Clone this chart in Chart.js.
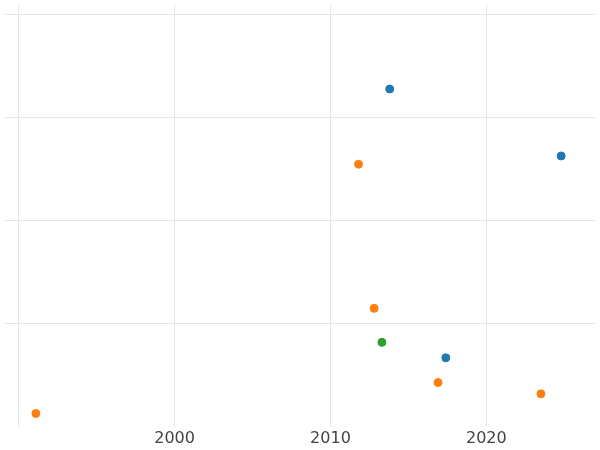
<!DOCTYPE html>
<html>
<head>
<meta charset="utf-8">
<script src="https://cdn.jsdelivr.net/npm/chart.js@4"></script>
<style>
  html, body { margin: 0; padding: 0; background: #fff; }
  #wrap { width: 600px; height: 450px; }
</style>
</head>
<body>
<div id="wrap"><canvas id="c"></canvas></div>
<script>
// values
const blueX = [2013.8, 2024.8, 2017.4];
const blueY = [3.28, 2.63, 0.67];
const orangeX = [2011.8, 2012.8, 2016.9, 2023.5, 1991.1];
const orangeY = [2.55, 1.15, 0.43, 0.32, 0.13];
const greenX = [2013.3];
const greenY = [0.82];
const xTicks = [2000, 2010, 2020];

function pts(xs, ys) {
  return xs.map((x, i) => ({x: x, y: ys[i]}));
}

function series(xs, ys, color) {
  return {
    data: pts(xs, ys),
    backgroundColor: color,
    borderColor: color,
    pointRadius: 4,
    pointHoverRadius: 4
  };
}

new Chart(document.getElementById('c'), {
  type: 'scatter',
  data: {
    datasets: [
      series(blueX, blueY, '#1f77b4'),
      series(orangeX, orangeY, '#ff7f0e'),
      series(greenX, greenY, '#2ca02c')
    ]
  },
  options: {
    responsive: true,
    maintainAspectRatio: false,
    animation: false,
    layout: { padding: { left: -5, right: -5, top: -5, bottom: 0 } },
    plugins: { legend: { display: false }, tooltip: { enabled: false } },
    scales: {
      x: {
        min: 1989.12,
        max: 2026.97,
        border: { display: false },
        grid: { color: '#e6e6e6', drawTicks: false },
        afterBuildTicks: axis => { axis.ticks = [1990].concat(xTicks).map(v => ({value: v})); },
        ticks: {
          color: '#444',
          font: { family: 'DejaVu Sans', size: 16 },
          padding: 2,
          callback: v => (v === 1990 ? '' : String(v))
        }
      },
      y: {
        min: 0,
        max: 4.096,
        border: { display: false },
        grid: { color: '#e6e6e6', drawTicks: false },
        afterBuildTicks: axis => { axis.ticks = [1, 2, 3, 4].map(v => ({value: v})); },
        ticks: { display: false }
      }
    }
  }
});
</script>
</body>
</html>
